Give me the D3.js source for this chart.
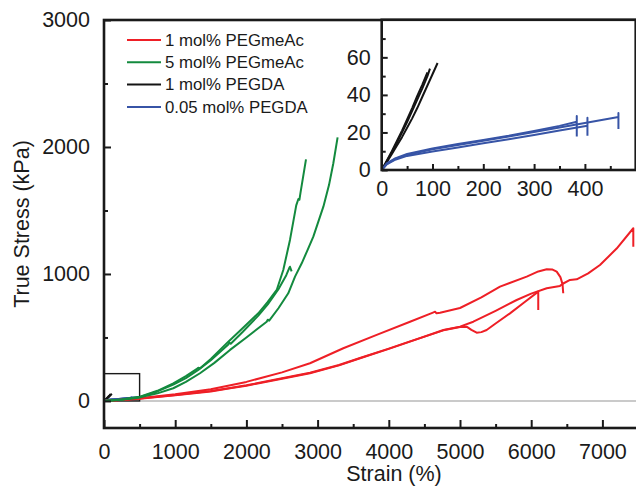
<!DOCTYPE html>
<html><head><meta charset="utf-8">
<script src="https://cdn.jsdelivr.net/npm/d3@7"></script>
<style>
body{margin:0;background:#fff}
svg{display:block}
text{font-family:"Liberation Sans",Arial,Helvetica,sans-serif;fill:#1a1a1a}
</style>
</head><body>
<svg id="chart" width="636" height="488"></svg>
<script>
// ---------- data ----------
const seriesNames = ["1 mol% PEGmeAc", "5 mol% PEGmeAc", "1 mol% PEGDA", "0.05 mol% PEGDA"];
const seriesColors = ["#ee1f26", "#138a3e", "#141414", "#3754a6"];

const xTicksMain = [0, 1000, 2000, 3000, 4000, 5000, 6000, 7000];
const yTicksMain = [0, 1000, 2000, 3000];
const xTicksInset = [0, 100, 200, 300, 400];
const yTicksInset = [0, 20, 40, 60];
const zoomBox = [500, 215]; // strain, stress of the inset region marker

// 1 mol% PEGmeAc (strain %, true stress kPa)
const red1 = [[0,0],[250,10],[500,22],[1000,52],[1500,92],[2000,150],[2500,225],[2893,297],[3361,415],[3830,520],[4298,624],[4620,696],[4650,703],[4670,690],[4720,694],[5000,732],[5300,815],[5562,900],[5937,979],[6100,1020],[6218,1037],[6300,1035],[6358,1018],[6410,975],[6440,920],[6450,848]];
const red2 = [[0,0],[250,8],[500,18],[1000,45],[1500,75],[1770,100],[2000,120],[2500,175],[2893,218],[3300,280],[3596,336],[4000,410],[4298,467],[4766,559],[5000,585],[5187,624],[5500,710],[5796,795],[6000,845],[6218,887],[6404,906],[6450,925],[6545,953],[6639,958],[6800,1005],[6966,1071],[7200,1200],[7434,1360],[7434,1215]];
const red3 = [[0,0],[250,9],[500,20],[1000,47],[1500,78],[1770,102],[2000,123],[2500,178],[2893,222],[3300,283],[3596,338],[4000,412],[4298,469],[4766,556],[5000,582],[5093,585],[5160,560],[5234,538],[5300,542],[5374,559],[5500,610],[5702,690],[5900,775],[6099,861],[6099,717]];

// 5 mol% PEGmeAc
const green1 = [[0,0],[250,10],[506,28],[750,60],[973,100],[1150,150],[1348,218],[1550,300],[1770,402],[2000,500],[2285,624],[2300,640],[2320,632],[2450,730],[2588,848],[2683,979],[2777,1084],[2860,1190],[2940,1294],[3081,1530],[3160,1700],[3221,1872],[3281,2076]];
const green2 = [[0,0],[250,12],[506,34],[750,80],[973,139],[1150,195],[1300,250],[1324,262],[1350,258],[1500,330],[1746,467],[1950,575],[2167,690],[2300,780],[2426,874],[2518,1031],[2612,1268],[2700,1540],[2730,1590],[2745,1585],[2760,1640],[2837,1903]];
const green3 = [[0,0],[250,11],[506,32],[750,75],[973,128],[1150,180],[1324,245],[1500,320],[1746,445],[1760,460],[1780,450],[1950,545],[2167,672],[2300,760],[2450,880],[2560,990],[2600,1045],[2612,1057],[2635,1020]];

// 1 mol% PEGDA
const black1 = [[0,0],[5,2],[10,4.2],[20,8.5],[30,13],[40,17.5],[50,22.5],[60,27.5],[70,33],[80,39],[90,45],[100,51],[110,57]];
const black2 = [[0,0],[5,2.2],[10,4.6],[20,9.5],[30,14.5],[40,20],[50,25.5],[60,31.5],[70,37.5],[80,43.5],[90,50],[95,54]];
const black3 = [[0,0],[5,2.4],[10,5],[20,10],[30,15.5],[40,21],[50,27],[60,33],[70,39.5],[80,45.5],[90,52]];

// 0.05 mol% PEGDA
const blue1 = [[0,0],[10,3.5],[25,6],[50,8.5],[100,11.5],[150,13.8],[200,16],[250,18.2],[300,20.8],[350,23.5],[384,25.7],[384,28.8],[384,17.8]];
const blue2 = [[0,0],[10,3],[25,5.3],[50,7.5],[100,9.8],[150,12],[200,14.2],[250,16.4],[300,18.6],[350,21],[405,23.6],[405,27.8],[405,18.2]];
const blue3 = [[0,0],[10,3.3],[25,5.7],[50,8],[100,11],[150,13.3],[200,15.6],[250,17.8],[300,20.2],[350,22.6],[400,25],[466,28.2],[466,30.4],[466,21.8]];

const seriesCurves = [[red1, red2, red3], [green1, green2, green3], [black1, black2, black3], [blue1, blue2, blue3]];

// ---------- drawing ----------
const svg = d3.select("#chart");
const FS = 21.5;

// main scales
const x = d3.scaleLinear().domain([0, 7500]).range([104, 638]);
const y = d3.scaleLinear().domain([-213, 3000]).range([428, 20]);

const main = svg.append("g");

// zero line
main.append("line").attr("x1", x(0)).attr("x2", x(7500)).attr("y1", y(0)).attr("y2", y(0))
  .attr("stroke", "#b8b8b8").attr("stroke-width", 1.6);

// zoom box
main.append("rect").attr("x", x(0)).attr("y", y(zoomBox[1]))
  .attr("width", x(zoomBox[0]) - x(0)).attr("height", y(0) - y(zoomBox[1]))
  .attr("fill", "none").attr("stroke", "#1a1a1a").attr("stroke-width", 1.4);

const lineMain = d3.line().x(d => x(d[0])).y(d => y(d[1]));
const drawOrder = [2, 3, 0, 1];
drawOrder.forEach(si => {
  seriesCurves[si].forEach(c => {
    main.append("path").attr("d", lineMain(c)).attr("fill", "none")
      .attr("stroke", seriesColors[si]).attr("stroke-width", 2).attr("stroke-linejoin", "round");
  });
});

// main axes
const xAxis = d3.axisBottom(x).tickValues(xTicksMain).tickSize(-8).tickPadding(16).tickFormat(d3.format("d"));
const gx = main.append("g").attr("transform", `translate(0,${y.range()[0]})`).call(xAxis);
const xMinor = d3.axisBottom(x).tickValues(d3.range(500, 7500, 1000)).tickSize(-4).tickFormat("");
main.append("g").attr("transform", `translate(0,${y.range()[0]})`).call(xMinor);

const yAxis = d3.axisLeft(y).tickValues(yTicksMain).tickSize(-7).tickPadding(14).tickFormat(d3.format("d"));
const gy = main.append("g").attr("transform", `translate(${x(0)},0)`).call(yAxis);
const yMinor = d3.axisLeft(y).tickValues([500, 1500, 2500]).tickSize(-4).tickFormat("");
main.append("g").attr("transform", `translate(${x(0)},0)`).call(yMinor);

main.selectAll(".domain").remove();
main.selectAll(".tick line").attr("stroke", "#1a1a1a").attr("stroke-width", 2);
main.selectAll(".tick text").attr("font-size", FS).attr("fill", "#1a1a1a")
  .style("font-family", '"Liberation Sans",Arial,sans-serif');
gx.selectAll(".tick text").attr("dy", "0.71em");

// frame
main.append("rect").attr("x", x(0)).attr("y", y(3000)).attr("width", x(7500) - x(0)).attr("height", y.range()[0] - y(3000))
  .attr("fill", "none").attr("stroke", "#1a1a1a").attr("stroke-width", 2.6);

// axis titles
svg.append("text").attr("x", 394).attr("y", 481).attr("text-anchor", "middle").attr("font-size", FS).text("Strain (%)");
svg.append("text").attr("transform", "translate(29,224) rotate(-90)").attr("text-anchor", "middle").attr("font-size", FS).text("True Stress (kPa)");

// legend
const legendY = [40, 62.3, 84.6, 107];
seriesNames.forEach((n, i) => {
  svg.append("line").attr("x1", 127).attr("x2", 161).attr("y1", legendY[i]).attr("y2", legendY[i])
    .attr("stroke", seriesColors[i]).attr("stroke-width", 2);
  svg.append("text").attr("x", 165).attr("y", legendY[i] + 5.6).attr("font-size", 16.8).text(n);
});

// ---------- inset ----------
const xi = d3.scaleLinear().domain([0, 500]).range([381.7, 635.7]);
const yi = d3.scaleLinear().domain([0, 80]).range([170, 19.8]);
const inset = svg.append("g");
inset.append("rect").attr("x", xi(0)).attr("y", yi(80)).attr("width", xi(500) - xi(0)).attr("height", yi(0) - yi(80))
  .attr("fill", "#fff");

const lineInset = d3.line().x(d => xi(d[0])).y(d => yi(d[1]));
[2, 3].forEach(si => {
  seriesCurves[si].forEach(c => {
    inset.append("path").attr("d", lineInset(c)).attr("fill", "none")
      .attr("stroke", seriesColors[si]).attr("stroke-width", 2).attr("stroke-linejoin", "round");
  });
});

const xiAxis = d3.axisBottom(xi).tickValues(xTicksInset).tickSize(-6).tickPadding(11).tickFormat(d3.format("d"));
const gxi = inset.append("g").attr("transform", `translate(0,${yi(0)})`).call(xiAxis);
inset.append("g").attr("transform", `translate(0,${yi(0)})`)
  .call(d3.axisBottom(xi).tickValues([50, 150, 250, 350, 450]).tickSize(-4).tickFormat(""));
const yiAxis = d3.axisLeft(yi).tickValues(yTicksInset).tickSize(-6).tickPadding(11).tickFormat(d3.format("d"));
inset.append("g").attr("transform", `translate(${xi(0)},0)`).call(yiAxis);
inset.append("g").attr("transform", `translate(${xi(0)},0)`)
  .call(d3.axisLeft(yi).tickValues([10, 30, 50, 70]).tickSize(-4).tickFormat(""));

inset.selectAll(".domain").remove();
inset.selectAll(".tick line").attr("stroke", "#1a1a1a").attr("stroke-width", 2);
inset.selectAll(".tick text").attr("font-size", FS).attr("fill", "#1a1a1a")
  .style("font-family", '"Liberation Sans",Arial,sans-serif');
gxi.selectAll(".tick text").attr("dy", "0.71em");

inset.append("rect").attr("x", xi(0)).attr("y", yi(80)).attr("width", xi(500) - xi(0)).attr("height", yi(0) - yi(80))
  .attr("fill", "none").attr("stroke", "#1a1a1a").attr("stroke-width", 2.6);
</script>
</body></html>
